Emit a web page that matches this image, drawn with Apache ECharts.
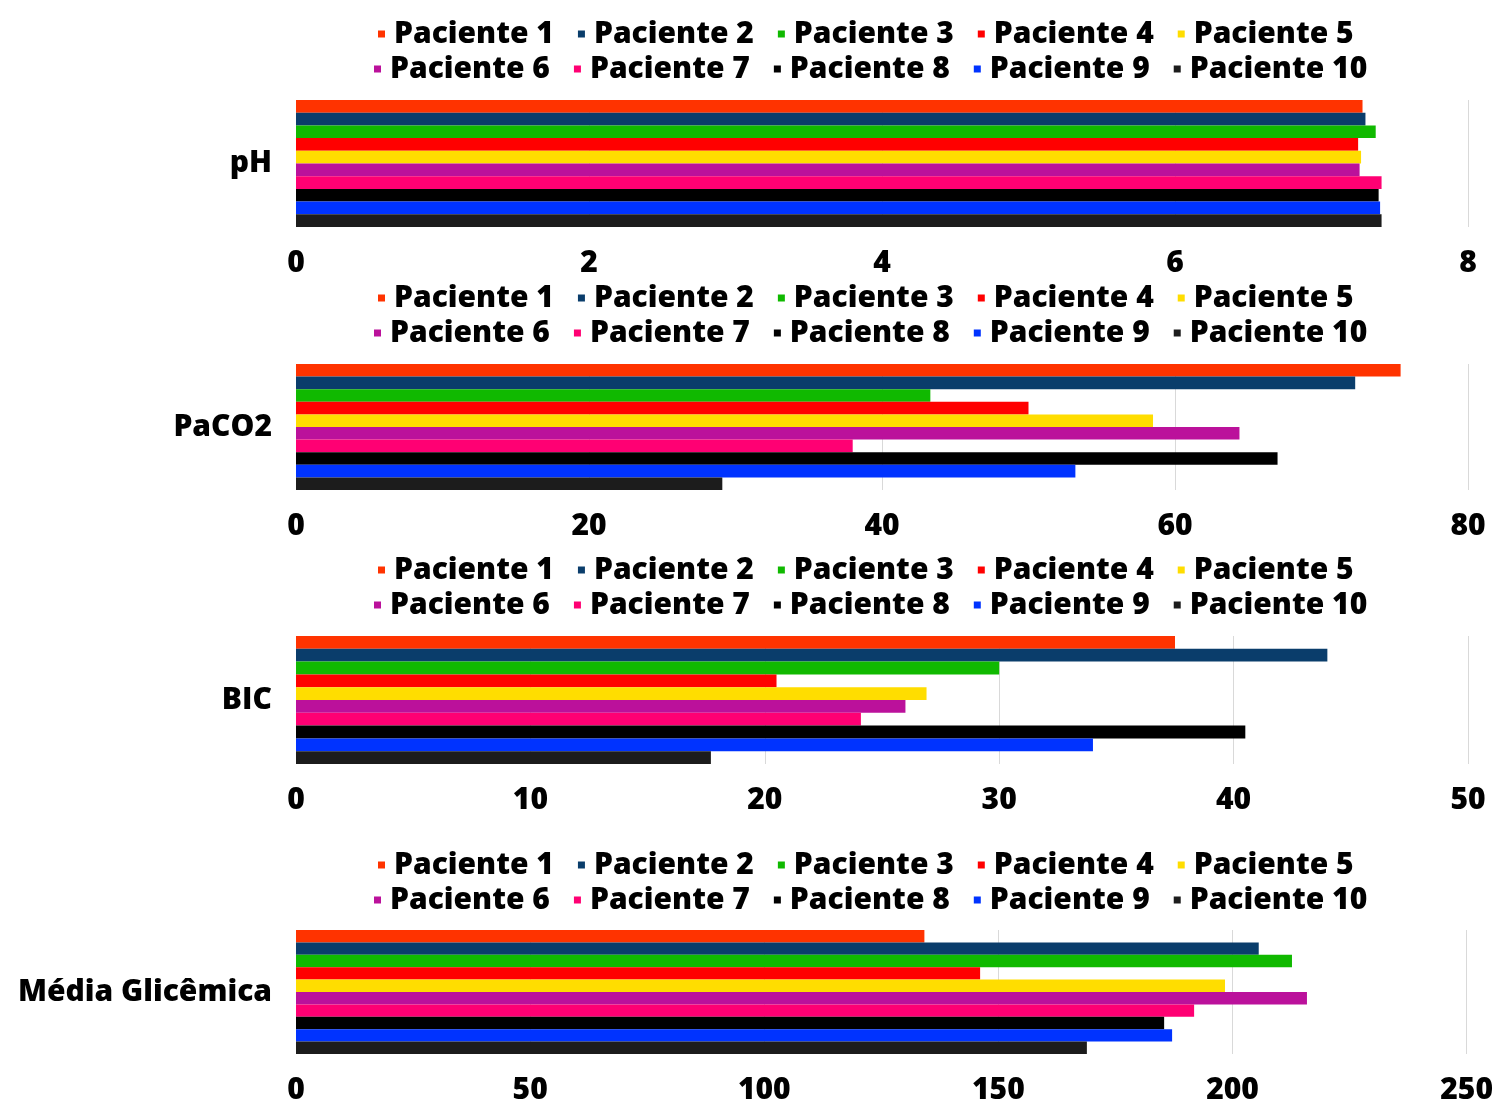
<!DOCTYPE html>
<html>
<head>
<meta charset="utf-8">
<script src="https://cdn.jsdelivr.net/npm/echarts@6/dist/echarts.min.js"></script>
<style>
  html, body { margin: 0; padding: 0; background: #fff; }
  #chart { width: 1496px; height: 1105px; }
</style>
</head>
<body>
<div id="chart"></div>
<script>
// pacientes e cores
var pacientes = ['Paciente 1', 'Paciente 2', 'Paciente 3', 'Paciente 4', 'Paciente 5',
                 'Paciente 6', 'Paciente 7', 'Paciente 8', 'Paciente 9', 'Paciente 10'];
var cores = ['#ff3300', '#0a3d6b', '#10b900', '#ff0000', '#ffdd00',
             '#bb119b', '#ff0073', '#000000', '#0033ff', '#1c1c1c'];

// valores por parâmetro
var painelNomes = ['pH', 'PaCO2', 'BIC', 'Média Glicêmica'];
var valoresPH = [7.28, 7.30, 7.37, 7.25, 7.27, 7.26, 7.41, 7.39, 7.40, 7.41];
var valoresPaCO2 = [75.4, 72.3, 43.3, 50.0, 58.5, 64.4, 38.0, 67.0, 53.2, 29.1];
var valoresBIC = [37.5, 44.0, 30.0, 20.5, 26.9, 26.0, 24.1, 40.5, 34.0, 17.7];
var valoresGlicemia = [134.2, 205.6, 212.7, 146.1, 198.4, 215.9, 191.8, 185.4, 187.1, 168.9];
var valores = [valoresPH, valoresPaCO2, valoresBIC, valoresGlicemia];

// escalas dos eixos
var eixoMax = [8, 80, 50, 250];
var eixoIntervalo = [2, 20, 10, 50];

var chart = echarts.init(document.getElementById('chart'));
var fonte = "'Open Sans', 'Noto Sans', sans-serif";
var texto = { fontFamily: fonte, fontWeight: 800, fontSize: 30, color: '#000' };

var gridTops = [100, 364, 636, 930];
var gridHeights = [127, 126, 128, 128];
var legendTops = [14, 278, 550, 845];

var grids = [], xAxes = [], yAxes = [], legends = [], series = [];

function legenda(top, left, nomes) {
    return {
        top: top,
        left: left,
        data: nomes,
        icon: 'rect',
        itemWidth: 7,
        itemHeight: 7,
        itemGap: 24,
        textStyle: Object.assign({ padding: [0, 0, 0, 4] }, texto)
    };
}

for (var g = 0; g < 4; g++) {
    grids.push({ left: 296, right: 28, top: gridTops[g], height: gridHeights[g] });
    legends.push(legenda(legendTops[g], 373, pacientes.slice(0, 5)));
    legends.push(legenda(legendTops[g] + 35, 369, pacientes.slice(5)));
    xAxes.push({
        type: 'value',
        gridIndex: g,
        min: 0,
        max: eixoMax[g],
        interval: eixoIntervalo[g],
        axisLine: { show: false },
        axisTick: { show: false },
        splitLine: { show: true, lineStyle: { color: '#d9d9d9', width: 1 } },
        axisLabel: Object.assign({ margin: 21 }, texto)
    });
    yAxes.push({
        type: 'category',
        gridIndex: g,
        inverse: true,
        data: [painelNomes[g]],
        axisLine: { show: false },
        axisTick: { show: false },
        axisLabel: Object.assign({ margin: 24, padding: [8, 0, 0, 0] }, texto)
    });
    for (var i = 0; i < pacientes.length; i++) {
        series.push({
            name: pacientes[i],
            type: 'bar',
            xAxisIndex: g,
            yAxisIndex: g,
            data: [valores[g][i]],
            barGap: '0%',
            barCategoryGap: '0%',
            itemStyle: { color: cores[i] }
        });
    }
}

chart.setOption({
    animation: false,
    color: cores,
    grid: grids,
    legend: legends,
    xAxis: xAxes,
    yAxis: yAxes,
    series: series
});
</script>
</body>
</html>
